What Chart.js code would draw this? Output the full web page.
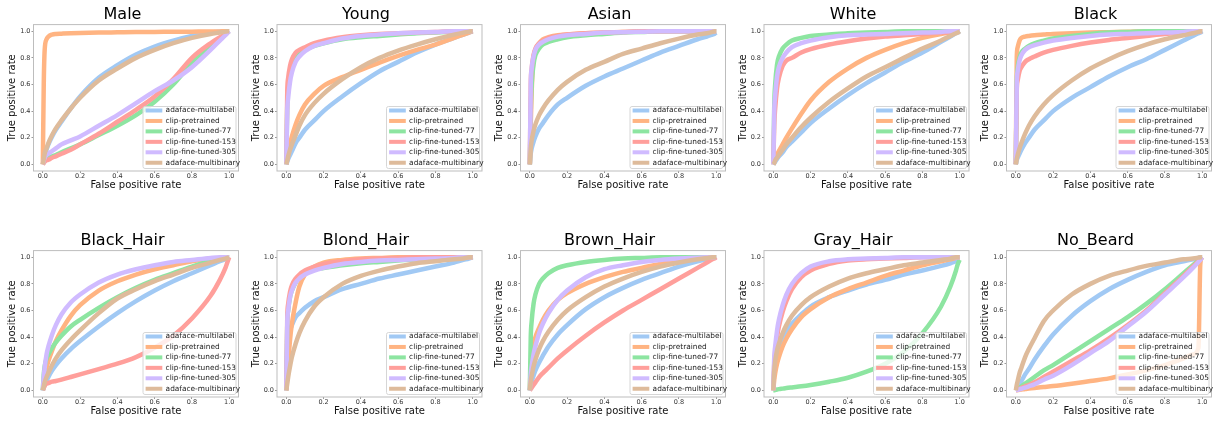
<!DOCTYPE html>
<html>
<head>
<meta charset="utf-8">
<title>ROC curves per attribute</title>
<script src="https://cdn.jsdelivr.net/npm/chart.js@4.4.1/dist/chart.umd.min.js"></script>
<style>
  html, body { margin: 0; padding: 0; background: #fff; }
  body { position: relative; width: 1213px; height: 423px; overflow: hidden; }
  canvas { position: absolute; }
</style>
</head>
<body>
<script>
// ---------------------------------------------------------------
// Data (false / true positive rate)
// ---------------------------------------------------------------

const SERIES = ['adaface-multilabel', 'clip-pretrained', 'clip-fine-tuned-77',
                'clip-fine-tuned-153', 'clip-fine-tuned-305', 'adaface-multibinary'];

const PANELS = ['Male', 'Young', 'Asian', 'White', 'Black',
                'Black_Hair', 'Blond_Hair', 'Brown_Hair', 'Gray_Hair', 'No_Beard'];

const TICKS = [0, 0.2, 0.4, 0.6, 0.8, 1.0];

// shared false positive rate grid
const FPR = [0, 0.005, 0.01, 0.02, 0.03, 0.05, 0.07, 0.1, 0.15, 0.2, 0.3,
             0.4, 0.5, 0.6, 0.7, 0.8, 0.9, 0.95, 0.98, 0.99, 1];

// true positive rates, one row per entry of SERIES
const tprMale = [
  [0, .03, .07, .11, .15, .21, .26, .32, .42, .51, .65, .745, .825, .885, .93, .965, .99, .997, 1, 1, 1],
  [0, .6, .86, .94, .96, .975, .98, .982, .985, .987, .99, .992, .994, .995, .996, .997, .998, .999, 1, 1, 1],
  [0, .02, .03, .04, .05, .06, .07, .09, .12, .15, .22, .29, .37, .47, .6, .76, .88, .94, .975, .99, 1],
  [0, .01, .02, .03, .035, .05, .06, .08, .11, .15, .23, .32, .41, .51, .64, .8, .91, .955, .98, .99, 1],
  [0, .03, .05, .07, .08, .1, .12, .15, .18, .21, .29, .37, .46, .55, .63, .73, .86, .93, .97, .985, 1],
  [0, .04, .08, .12, .16, .22, .27, .33, .42, .5, .63, .72, .8, .86, .91, .95, .98, .99, .997, 1, 1]
];
const tprYoung = [
  [0, .02, .04, .07, .1, .16, .2, .26, .33, .4, .51, .61, .7, .77, .84, .9, .95, .975, .99, .995, 1],
  [0, .04, .08, .15, .21, .3, .37, .45, .53, .59, .655, .71, .765, .815, .86, .9, .95, .975, .99, .995, 1],
  [0, .45, .55, .67, .73, .8, .83, .86, .89, .91, .94, .955, .965, .975, .985, .99, .997, 1, 1, 1, 1],
  [0, .55, .65, .74, .79, .84, .86, .88, .91, .93, .955, .97, .98, .985, .99, .995, 1, 1, 1, 1, 1],
  [0, .4, .5, .62, .69, .77, .81, .85, .89, .91, .945, .965, .975, .985, .99, .995, 1, 1, 1, 1, 1],
  [0, .03, .06, .11, .15, .22, .29, .37, .46, .53, .64, .73, .8, .855, .9, .94, .975, .99, .997, 1, 1]
];
const tprAsian = [
  [0, .08, .12, .17, .21, .27, .31, .37, .45, .5, .59, .66, .72, .78, .84, .89, .94, .96, .975, .98, .99],
  [0, .3, .55, .8, .86, .91, .94, .955, .97, .975, .985, .99, .995, .997, 1, 1, 1, 1, 1, 1, 1],
  [0, .4, .6, .75, .82, .87, .9, .92, .94, .955, .97, .98, .99, .995, 1, 1, 1, 1, 1, 1, 1],
  [0, .6, .72, .82, .87, .91, .93, .95, .965, .975, .985, .99, .995, 1, 1, 1, 1, 1, 1, 1, 1],
  [0, .6, .72, .81, .86, .9, .92, .94, .96, .97, .98, .99, .993, .996, 1, 1, 1, 1, 1, 1, 1],
  [0, .12, .18, .25, .3, .37, .42, .48, .56, .62, .71, .77, .83, .87, .91, .945, .975, .985, .995, 1, 1]
];
const tprWhite = [
  [0, .01, .02, .04, .06, .09, .13, .17, .24, .31, .42, .52, .61, .69, .77, .84, .92, .96, .985, .99, 1],
  [0, .02, .04, .07, .1, .15, .2, .27, .38, .48, .62, .72, .8, .86, .91, .95, .98, .99, .997, 1, 1],
  [0, .45, .6, .75, .81, .87, .9, .93, .95, .965, .975, .985, .99, .995, 1, 1, 1, 1, 1, 1, 1],
  [0, .3, .42, .57, .65, .74, .78, .8, .84, .865, .9, .925, .945, .96, .97, .98, .99, .995, 1, 1, 1],
  [0, .4, .52, .66, .73, .8, .84, .88, .91, .93, .955, .97, .975, .98, .985, .99, .995, 1, 1, 1, 1],
  [0, .01, .03, .05, .07, .11, .15, .2, .28, .35, .47, .57, .66, .73, .8, .87, .93, .965, .985, .99, 1]
];
const tprBlack = [
  [0, .03, .05, .08, .11, .16, .2, .26, .33, .4, .5, .58, .66, .73, .79, .86, .93, .965, .985, .99, 1],
  [0, .8, .88, .93, .95, .96, .965, .97, .975, .98, .985, .99, .993, .996, 1, 1, 1, 1, 1, 1, 1],
  [0, .6, .72, .8, .84, .87, .89, .91, .93, .945, .965, .98, .99, .995, 1, 1, 1, 1, 1, 1, 1],
  [0, .55, .63, .7, .73, .77, .79, .81, .84, .86, .89, .915, .935, .95, .965, .98, .99, .995, 1, 1, 1],
  [0, .6, .7, .78, .82, .86, .88, .895, .915, .93, .95, .965, .975, .98, .985, .99, .995, 1, 1, 1, 1],
  [0, .04, .07, .12, .16, .23, .29, .36, .45, .52, .63, .72, .79, .85, .9, .94, .97, .985, .995, 1, 1]
];
const tprBlackHair = [
  [0, .02, .04, .07, .1, .15, .19, .24, .31, .37, .48, .58, .67, .75, .82, .88, .94, .97, .985, .99, 1],
  [0, .05, .1, .17, .22, .3, .37, .45, .56, .64, .75, .82, .87, .91, .94, .97, .99, .995, 1, 1, 1],
  [0, .12, .18, .24, .27, .32, .36, .41, .48, .53, .62, .7, .77, .83, .88, .93, .97, .985, .995, 1, 1],
  [0, .02, .035, .05, .055, .065, .07, .08, .1, .12, .16, .2, .25, .32, .41, .54, .71, .83, .92, .96, 1],
  [0, .1, .17, .27, .33, .42, .49, .57, .66, .72, .81, .87, .91, .94, .965, .98, .995, 1, 1, 1, 1],
  [0, .03, .06, .1, .13, .19, .24, .3, .38, .45, .58, .69, .76, .82, .87, .92, .96, .98, .99, .995, 1]
];
const tprBlondHair = [
  [0, .3, .37, .45, .49, .55, .58, .62, .67, .7, .76, .8, .84, .87, .9, .93, .96, .98, .99, .995, 1],
  [0, .1, .2, .38, .5, .66, .78, .87, .93, .96, .98, .99, .995, 1, 1, 1, 1, 1, 1, 1, 1],
  [0, .5, .6, .7, .75, .81, .85, .88, .91, .92, .94, .955, .965, .975, .985, .99, .995, 1, 1, 1, 1],
  [0, .55, .65, .74, .79, .84, .87, .9, .93, .95, .97, .985, .99, .995, 1, 1, 1, 1, 1, 1, 1],
  [0, .5, .6, .7, .75, .81, .84, .87, .9, .92, .95, .965, .975, .98, .985, .99, .995, 1, 1, 1, 1],
  [0, .05, .1, .18, .25, .35, .43, .52, .63, .7, .8, .86, .9, .93, .955, .97, .985, .99, 1, 1, 1]
];
const tprBrownHair = [
  [0, .04, .07, .11, .15, .21, .26, .33, .42, .49, .61, .7, .77, .83, .88, .93, .97, .985, .995, 1, 1],
  [0, .2, .27, .35, .4, .47, .53, .6, .68, .73, .8, .85, .89, .92, .95, .97, .99, .995, 1, 1, 1],
  [0, .4, .52, .65, .72, .8, .84, .88, .92, .94, .965, .98, .99, .995, 1, 1, 1, 1, 1, 1, 1],
  [0, .01, .02, .04, .06, .1, .13, .17, .24, .3, .41, .51, .6, .68, .76, .84, .92, .96, .985, .99, 1],
  [0, .12, .18, .27, .33, .43, .5, .58, .68, .75, .85, .91, .94, .965, .98, .99, .997, 1, 1, 1, 1],
  [0, .07, .11, .18, .23, .31, .37, .44, .53, .6, .7, .78, .84, .89, .93, .96, .985, .995, 1, 1, 1]
];
const tprGrayHair = [
  [0, .15, .22, .3, .34, .4, .45, .5, .57, .63, .7, .75, .795, .83, .87, .9, .935, .955, .97, .975, .98],
  [0, .08, .13, .2, .25, .33, .39, .46, .55, .61, .7, .76, .81, .86, .9, .94, .97, .985, .995, 1, 1],
  [0, 0, .003, .006, .009, .013, .017, .022, .03, .04, .065, .095, .14, .2, .29, .43, .63, .78, .9, .95, .98],
  [0, .2, .28, .4, .48, .59, .67, .76, .85, .9, .95, .975, .985, .99, .995, 1, 1, 1, 1, 1, 1],
  [0, .25, .33, .45, .53, .64, .72, .8, .88, .93, .97, .985, .99, .995, 1, 1, 1, 1, 1, 1, 1],
  [0, .15, .22, .3, .35, .43, .49, .56, .64, .7, .78, .84, .88, .91, .94, .96, .98, .99, 1, 1, 1]
];
const tprNoBeard = [
  [0, .01, .02, .05, .07, .12, .16, .23, .33, .42, .56, .67, .76, .83, .89, .94, .97, .985, .995, 1, 1],
  [0, .001, .002, .004, .006, .01, .013, .018, .025, .032, .05, .07, .09, .12, .15, .19, .24, .27, .32, .95, 1],
  [0, .005, .01, .02, .03, .05, .07, .1, .15, .19, .28, .37, .46, .55, .65, .76, .88, .94, .975, .99, 1],
  [0, .003, .006, .012, .018, .03, .04, .06, .1, .14, .22, .3, .39, .49, .6, .73, .86, .93, .97, .985, 1],
  [0, .002, .004, .008, .012, .02, .03, .045, .08, .11, .19, .28, .37, .48, .59, .72, .85, .92, .965, .98, 1],
  [0, .04, .07, .13, .17, .25, .31, .39, .52, .6, .72, .8, .86, .9, .935, .96, .985, .99, .997, 1, 1]
];

const TPR = [tprMale, tprYoung, tprAsian, tprWhite, tprBlack,
             tprBlackHair, tprBlondHair, tprBrownHair, tprGrayHair, tprNoBeard];

// seaborn "pastel" palette
const COLORS = ['#a1c9f4', '#ffb482', '#8de5a1', '#ff9f9b', '#d0bbff', '#debb9b'];

// ---------------------------------------------------------------
// Layout of the 2 x 5 grid of axes (page pixels)
// ---------------------------------------------------------------
const AX_LEFT = [33.5, 277, 520.5, 764, 1006.5];
const ROW_TOP = [0, 226];
const AX_W = 205;
const Y_AXIS_W = 27;
const X_AXIS_H = 22;
const CANVAS_H = 193;
const FONT = '"DejaVu Sans", sans-serif';

Chart.defaults.font.family = FONT;

// axes frame + matplotlib style legend in the lower right corner
const framePlugin = {
  id: 'frame',
  afterDatasetsDraw(chart) {
    const { ctx, chartArea: a } = chart;
    ctx.save();
    ctx.strokeStyle = '#bdbdbd';
    ctx.lineWidth = 1;
    ctx.strokeRect(a.left, a.top, a.right - a.left, a.bottom - a.top);

    const w = 93, h = 62;
    const x0 = a.right - 2.5 - w;
    const y0 = a.bottom - 2.5 - h;
    ctx.fillStyle = 'rgba(255,255,255,0.8)';
    ctx.strokeStyle = '#d6d6d6';
    ctx.beginPath();
    ctx.roundRect(x0, y0, w, h, 2);
    ctx.fill();
    ctx.stroke();

    ctx.font = '7.4px ' + FONT;
    ctx.textBaseline = 'middle';
    chart.data.datasets.forEach((ds, i) => {
      const y = y0 + 4 + i * 10.45;
      ctx.strokeStyle = ds.borderColor;
      ctx.lineWidth = 4;
      ctx.beginPath();
      ctx.moveTo(x0 + 2.6, y);
      ctx.lineTo(x0 + 19.3, y);
      ctx.stroke();
      ctx.fillStyle = '#222';
      ctx.fillText(ds.label, x0 + 22.6, y);
    });
    ctx.restore();
  }
};

function axisOptions(label, isX) {
  return {
    type: 'linear',
    min: -0.05,
    max: 1.05,
    afterBuildTicks: s => { s.ticks = TICKS.map(v => ({ value: v })); },
    afterFit: s => { if (isX) s.height = X_AXIS_H; else s.width = Y_AXIS_W; },
    ticks: {
      callback: v => v.toFixed(1),
      font: { size: 6.5, lineHeight: 1 },
      color: '#333',
      padding: isX ? 0 : 1,
      maxRotation: 0,
      autoSkip: false
    },
    grid: { drawOnChartArea: false, drawTicks: true, tickLength: 2, tickColor: '#999' },
    border: { display: false },
    title: {
      display: true,
      text: label,
      color: '#111',
      font: { size: 10, lineHeight: 1.2 },
      padding: isX ? { top: 0, bottom: 1.7 } : { top: 0.3, bottom: 0 }
    }
  };
}

PANELS.forEach((name, idx) => {
  const col = idx % 5;
  const row = Math.floor(idx / 5);
  const axLeft = AX_LEFT[col];
  const cx = Math.floor(axLeft - 30);

  const canvas = document.createElement('canvas');
  canvas.width = 30 + AX_W + 5;
  canvas.height = CANVAS_H;
  canvas.style.left = cx + 'px';
  canvas.style.top = ROW_TOP[row] + 'px';
  document.body.appendChild(canvas);

  const tpr = TPR[idx];

  new Chart(canvas, {
    type: 'line',
    data: {
      datasets: SERIES.map((label, s) => ({
        label: label,
        data: FPR.map((x, i) => ({ x: x, y: tpr[s][i] })),
        borderColor: COLORS[s],
        borderWidth: 4.5,
        pointRadius: 0,
        fill: false,
        cubicInterpolationMode: 'monotone',
        order: SERIES.length - s   // later series drawn on top, as in matplotlib
      }))
    },
    options: {
      responsive: false,
      animation: false,
      devicePixelRatio: 1,
      events: [],
      layout: {
        padding: {
          left: axLeft - cx - Y_AXIS_W,
          right: canvas.width - (axLeft - cx) - AX_W,
          top: 0,
          bottom: 0
        }
      },
      plugins: {
        legend: { display: false },
        tooltip: { enabled: false },
        title: {
          display: true,
          text: name,
          color: '#000',
          font: { size: 16, weight: 'normal', lineHeight: 1.2 },
          padding: { top: 5.4, bottom: 0 }
        }
      },
      scales: {
        x: axisOptions('False positive rate', true),
        y: axisOptions('True positive rate', false)
      }
    },
    plugins: [framePlugin]
  });
});
</script>
</body>
</html>
